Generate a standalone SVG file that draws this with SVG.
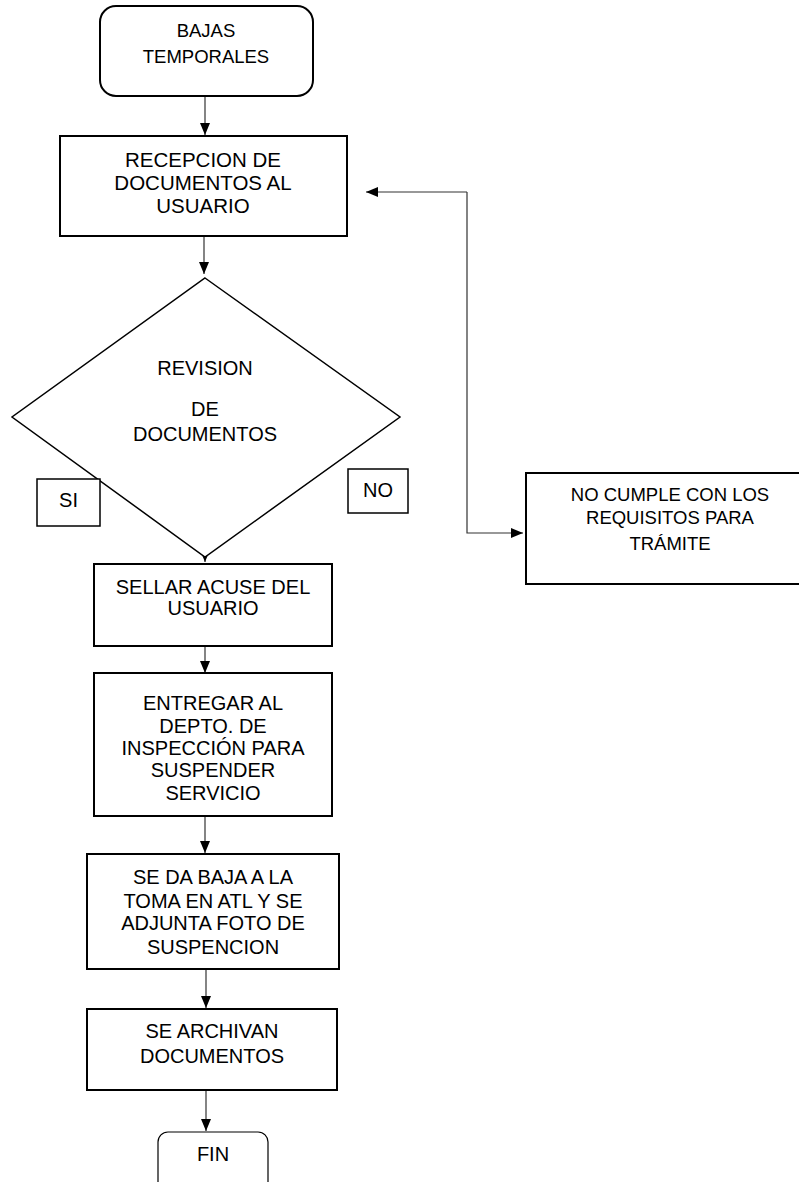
<svg xmlns="http://www.w3.org/2000/svg" width="799" height="1182" viewBox="0 0 799 1182">
<style>
.box{fill:#fff;stroke:#000;stroke-width:2}
.lbl{fill:#fff;stroke:#000;stroke-width:1.5}
.t{font-family:"Liberation Sans",Arial,sans-serif;font-size:20px;fill:#000;text-anchor:middle}
.s{font-size:18.5px}
.c{fill:none;stroke:#333;stroke-width:1.2}
</style>
<defs>
<marker id="ah" viewBox="0 0 12 10" markerWidth="12" markerHeight="10" refX="12" refY="5" markerUnits="userSpaceOnUse" orient="auto">
<path d="M0,0 L12,5 L0,10 z" fill="#000"/>
</marker>
</defs>
<rect width="799" height="1182" fill="#fff"/>
<g id="connectors">
<path class="c" d="M205,96 V135" marker-end="url(#ah)"/>
<path class="c" d="M204,236 V274" marker-end="url(#ah)"/>
<path class="c" d="M205,543 V562" marker-end="url(#ah)"/>
<path class="c" d="M205,646 V673" marker-end="url(#ah)"/>
<path class="c" d="M205,816 V853" marker-end="url(#ah)"/>
<path class="c" d="M206,969 V1008" marker-end="url(#ah)"/>
<path class="c" d="M206,1091 V1131" marker-end="url(#ah)"/>
<path class="c" d="M467,192 H366" marker-end="url(#ah)"/>
<path class="c" d="M467,192 V533 H523" marker-end="url(#ah)"/>
</g>
<g id="start">
<rect class="box" x="100" y="6" width="213" height="90" rx="16"/>
<text class="t s" x="206" y="37">BAJAS</text>
<text class="t s" x="206" y="63">TEMPORALES</text>
</g>
<g id="recepcion">
<rect class="box" x="60" y="136" width="287" height="100"/>
<text class="t" x="203" y="167" style="font-size:20.5px">RECEPCION DE</text>
<text class="t" x="203" y="189.5" style="font-size:20.5px">DOCUMENTOS AL</text>
<text class="t" x="203" y="212.5" style="font-size:20.5px">USUARIO</text>
</g>
<g id="revision">
<polygon class="lbl" points="205,278 400,417 205,557 12,417"/>
<text class="t" x="205" y="375">REVISION</text>
<text class="t" x="205" y="416">DE</text>
<text class="t" x="205" y="441">DOCUMENTOS</text>
</g>
<g id="si">
<rect class="lbl" x="37" y="479" width="63" height="47"/>
<text class="t" x="68.5" y="507">SI</text>
</g>
<g id="no">
<rect class="lbl" x="348" y="469" width="60" height="44"/>
<text class="t" x="378" y="497">NO</text>
</g>
<g id="sellar">
<rect class="box" x="94" y="564" width="238" height="82"/>
<text class="t" x="213" y="593.5">SELLAR ACUSE DEL</text>
<text class="t" x="213" y="615">USUARIO</text>
</g>
<g id="entregar">
<rect class="box" x="94" y="673" width="238" height="143"/>
<text class="t" x="213" y="709.5">ENTREGAR AL</text>
<text class="t" x="213" y="732.5">DEPTO. DE</text>
<text class="t" x="213" y="755">INSPECCIÓN PARA</text>
<text class="t" x="213" y="777">SUSPENDER</text>
<text class="t" x="213" y="799.5">SERVICIO</text>
</g>
<g id="baja">
<rect class="box" x="87" y="854" width="252" height="115"/>
<text class="t" x="213" y="884">SE DA BAJA A LA</text>
<text class="t" x="213" y="907.5">TOMA EN ATL Y SE</text>
<text class="t" x="213" y="930">ADJUNTA FOTO DE</text>
<text class="t" x="213" y="953.5">SUSPENCION</text>
</g>
<g id="archivan">
<rect class="box" x="87" y="1009" width="250" height="81"/>
<text class="t" x="212" y="1037.5">SE ARCHIVAN</text>
<text class="t" x="212" y="1062.5">DOCUMENTOS</text>
</g>
<g id="fin">
<rect x="158" y="1132" width="110" height="70" rx="10" fill="#fff" stroke="#000" stroke-width="1.2"/>
<text class="t" x="213" y="1161">FIN</text>
</g>
<g id="nocumple">
<rect class="box" x="526" y="473" width="288" height="111"/>
<text class="t s" x="670" y="501">NO CUMPLE CON LOS</text>
<text class="t s" x="670" y="524">REQUISITOS PARA</text>
<text class="t s" x="670" y="550">TRÁMITE</text>
</g>
</svg>
